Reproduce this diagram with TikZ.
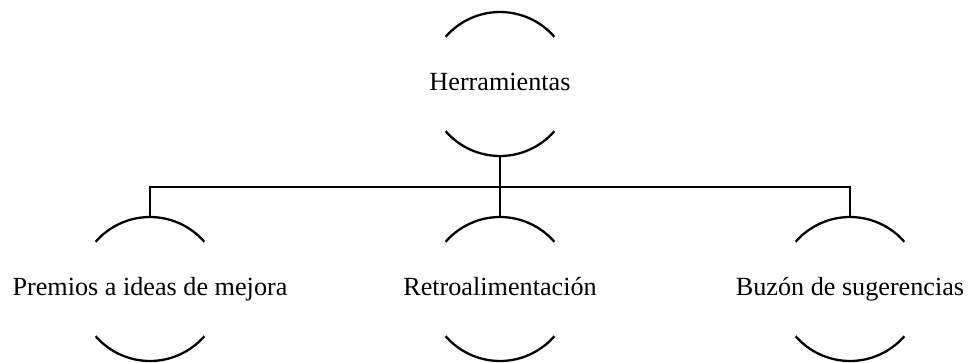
\documentclass[tikz,border=0pt]{standalone}
\usepackage{fontspec}
\setmainfont{Liberation Serif}
\usetikzlibrary{positioning}

\begin{document}
\begin{tikzpicture}[
    item/.style={rectangle,inner sep=0pt,minimum height=2.88cm,
                 text height=1.0em,text depth=0.25em,
                 font=\fontsize{14.9}{17}\selectfont},
    link/.style={line width=1.3pt},
    node distance=4.1cm and 7cm, on grid,
  ]
    \useasboundingbox (0,0) rectangle (19.36,-7.24);
    \node[item] (root) at (10,-1.68) {Herramientas};
    \node[item,below=of root] (retro) {Retroalimentación};
    \node[item,left=of retro] (premios) {Premios a ideas de mejora};
    \node[item,right=of retro] (buzon) {Buzón de sugerencias};
    % arcs above and below each label
    \foreach \n in {root,premios,retro,buzon}
      \draw[link] (\n.center) ++(41:1.44) arc (41:139:1.44)
                  (\n.center) ++(221:1.44) arc (221:319:1.44);
    \draw[link] (root.south) -- ++(0,-0.61) coordinate (bus) -| (premios.north);
    \draw[link] (bus) -| (buzon.north);
    \draw[link] (root.south) -- (retro.north);
  \end{tikzpicture}
\end{document}
